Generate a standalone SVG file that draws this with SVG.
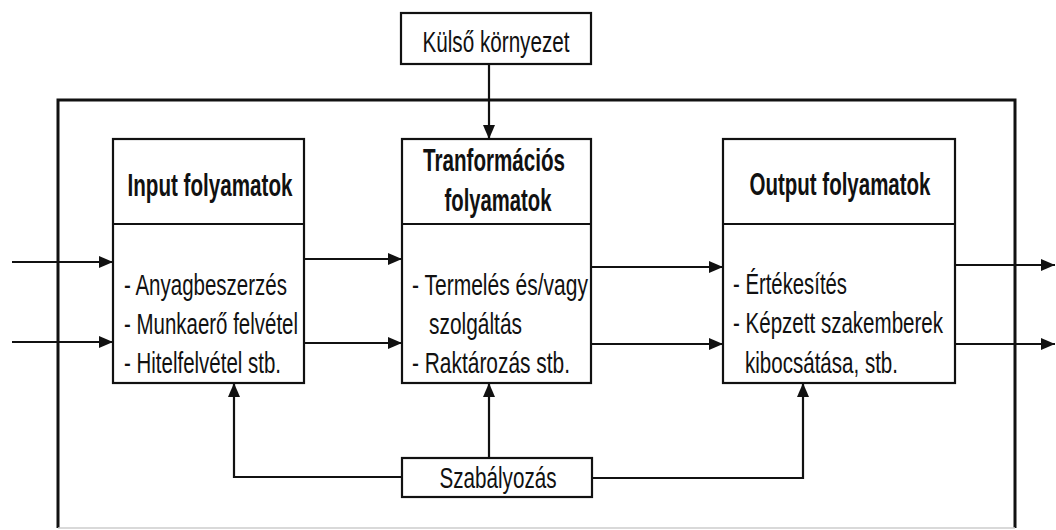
<svg xmlns="http://www.w3.org/2000/svg" width="1056" height="530" viewBox="0 0 1056 530">
  <defs>
    <marker id="arr" markerUnits="userSpaceOnUse" markerWidth="14" markerHeight="12" refX="14" refY="6" orient="auto">
      <path d="M0,0 L14,6 L0,12 z" fill="#111"/>
    </marker>
    <style>
      .box { fill: #fff; stroke: #111; stroke-width: 2.2; }
      .div { stroke: #111; stroke-width: 2.2; }
      .frame { fill: none; stroke: #111; stroke-width: 3; }
      .conn { fill: none; stroke: #111; stroke-width: 2.2; marker-end: url(#arr); }
      .t { font-family: "Liberation Sans", Arial, sans-serif; font-size: 29px; fill: #111; }
      .h { font-family: "Liberation Sans", Arial, sans-serif; font-size: 31px; font-weight: bold; fill: #111; text-anchor: middle; }
      .c { text-anchor: middle; }
    </style>
  </defs>
  <rect width="1056" height="530" fill="#fff"/>

  <g id="frame">
    <path class="frame" d="M58,528 V100 H1015 V528"/>
    <line x1="58" y1="528" x2="1015" y2="528" stroke="#ccc" stroke-width="1.5"/>
  </g>

  <g id="kulso">
    <rect class="box" x="401" y="13" width="190" height="51"/>
    <text class="t c" x="496" y="52" textLength="147" lengthAdjust="spacingAndGlyphs">Külső környezet</text>
  </g>

  <g id="input">
    <rect class="box" x="113" y="139" width="191" height="244"/>
    <line class="div" x1="113" y1="224" x2="304" y2="224"/>
    <text class="h" x="210" y="196" textLength="165" lengthAdjust="spacingAndGlyphs">Input folyamatok</text>
    <text class="t" x="124" y="295" textLength="163" lengthAdjust="spacingAndGlyphs">- Anyagbeszerzés</text>
    <text class="t" x="124" y="334" textLength="174" lengthAdjust="spacingAndGlyphs">- Munkaerő felvétel</text>
    <text class="t" x="124" y="373" textLength="157" lengthAdjust="spacingAndGlyphs">- Hitelfelvétel stb.</text>
  </g>

  <g id="transform">
    <rect class="box" x="402" y="139" width="189" height="244"/>
    <line class="div" x1="402" y1="224" x2="591" y2="224"/>
    <text class="h" x="494" y="171" textLength="142" lengthAdjust="spacingAndGlyphs">Tranformációs</text>
    <text class="h" x="498" y="211" textLength="107" lengthAdjust="spacingAndGlyphs">folyamatok</text>
    <text class="t" x="412" y="295" textLength="176" lengthAdjust="spacingAndGlyphs">- Termelés és/vagy</text>
    <text class="t" x="429" y="334" textLength="93" lengthAdjust="spacingAndGlyphs">szolgáltás</text>
    <text class="t" x="412" y="373" textLength="158" lengthAdjust="spacingAndGlyphs">- Raktározás stb.</text>
  </g>

  <g id="output">
    <rect class="box" x="723" y="139" width="232" height="244"/>
    <line class="div" x1="723" y1="224" x2="955" y2="224"/>
    <text class="h" x="840" y="195" textLength="181" lengthAdjust="spacingAndGlyphs">Output folyamatok</text>
    <text class="t" x="733" y="294" textLength="114" lengthAdjust="spacingAndGlyphs">- Értékesítés</text>
    <text class="t" x="733" y="333" textLength="210" lengthAdjust="spacingAndGlyphs">- Képzett szakemberek</text>
    <text class="t" x="745" y="373" textLength="153" lengthAdjust="spacingAndGlyphs">kibocsátása, stb.</text>
  </g>

  <g id="szabalyozas">
    <rect class="box" x="402" y="458" width="190" height="39"/>
    <text class="t c" x="498" y="488" textLength="117" lengthAdjust="spacingAndGlyphs">Szabályozás</text>
  </g>

  <g id="connectors">
    <line class="conn" x1="12" y1="262" x2="113" y2="262"/>
    <line class="conn" x1="12" y1="342" x2="113" y2="342"/>
    <line class="conn" x1="304" y1="259" x2="402" y2="259"/>
    <line class="conn" x1="304" y1="343" x2="402" y2="343"/>
    <line class="conn" x1="591" y1="267" x2="723" y2="267"/>
    <line class="conn" x1="591" y1="344" x2="723" y2="344"/>
    <line class="conn" x1="955" y1="265" x2="1055" y2="265"/>
    <line class="conn" x1="955" y1="344" x2="1055" y2="344"/>
    <line class="conn" x1="489" y1="64" x2="489" y2="139"/>
    <path class="conn" d="M402,477 H234 V383"/>
    <path class="conn" d="M489,458 V383"/>
    <path class="conn" d="M592,478 H803 V383"/>
  </g>
</svg>
